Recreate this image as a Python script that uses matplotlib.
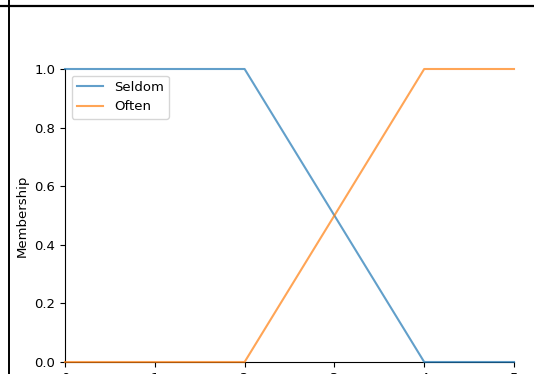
import matplotlib
matplotlib.use("Agg")
import matplotlib.pyplot as plt
from matplotlib.lines import Line2D

# universe of discourse and membership values at the breakpoints
x_points = [0, 1, 2, 3, 4, 5]
seldom = [1.0, 1.0, 1.0, 0.5, 0.0, 0.0]
often = [0.0, 0.0, 0.0, 0.5, 1.0, 1.0]
labels = ["Seldom", "Often"]

W, H = 534, 374
fig = plt.figure(figsize=(W / 100, H / 100), dpi=100)
ax = fig.add_axes([65 / W, 1 - 362 / H, (514 - 65) / W, (362 - 69) / H])

ax.plot(x_points, seldom, color="#1f77b4", lw=1.5, alpha=0.7, label=labels[0],
        clip_on=False, zorder=3)
ax.plot(x_points, often, color="#ff7f0e", lw=1.5, alpha=0.7, label=labels[1],
        clip_on=False, zorder=3)

ax.set_xlim(0, 5)
ax.set_ylim(0, 1.0)
ax.set_ylabel("Membership", fontsize=9.5)
ax.tick_params(labelsize=9.5)
ax.spines["top"].set_visible(False)
ax.spines["right"].set_visible(False)
ax.legend(loc="upper left", fontsize=9.5)

# cell border around the figure
fig.add_artist(Line2D([0, 1], [1 - 5.5 / H, 1 - 5.5 / H], transform=fig.transFigure,
                      color="black", lw=1.6))
fig.add_artist(Line2D([8.5 / W, 8.5 / W], [0, 1], transform=fig.transFigure,
                      color="black", lw=1.4))

fig.savefig("out.png", dpi=100)
